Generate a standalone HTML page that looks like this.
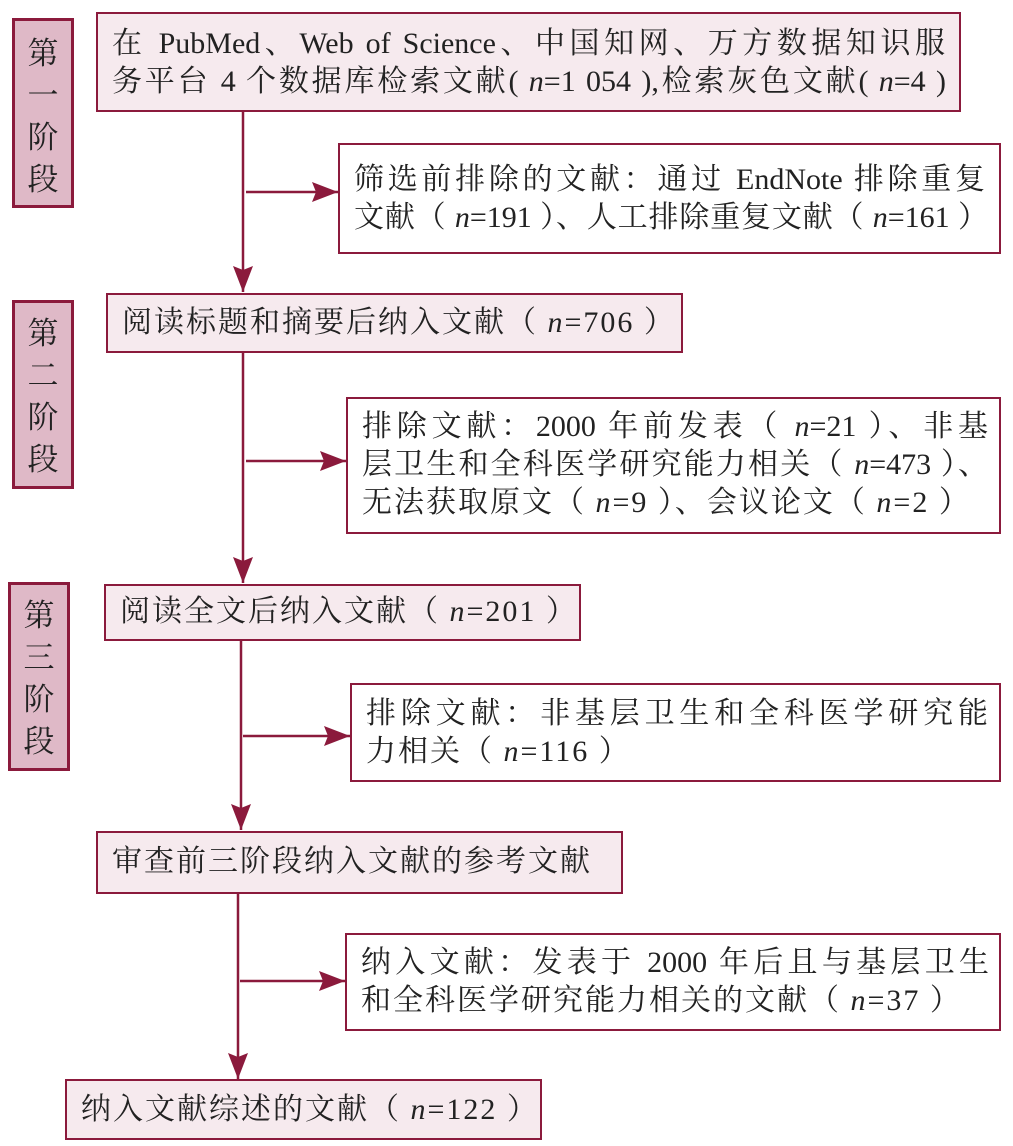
<!DOCTYPE html>
<html><head><meta charset="utf-8"><style>
body{margin:0;width:1013px;height:1146px;background:#fff;position:relative;overflow:hidden;font-family:"Liberation Serif","Noto Serif CJK SC",serif;color:#222;}
.b{position:absolute;box-sizing:border-box;border:2px solid #8b1a3c;font-size:30px;letter-spacing:2px;line-height:38px;white-space:nowrap;padding-left:14px;}
.j{display:block;white-space:normal;text-align:justify;text-align-last:justify;text-justify:inter-character;letter-spacing:0;}
.m{background:#f6eaee;}
.w{background:#fff;}
.s{background:#dfb9c7;border-width:3px;padding:0;text-align:center;font-size:31px;letter-spacing:0;line-height:42px;}
i{font-style:italic}
svg{position:absolute;left:0;top:0}
</style></head><body>
<svg width="1013" height="1146">
<defs>
<marker id="d" markerWidth="26" markerHeight="20" refX="26" refY="10" orient="auto" markerUnits="userSpaceOnUse"><path d="M0,0 L26,10 L0,20 L4,10 Z" fill="#8b1a3c"/></marker></defs>
<g stroke="#8b1a3c" stroke-width="2.5" fill="none">
<line x1="243" y1="111" x2="243" y2="292" marker-end="url(#d)"/>
<line x1="246" y1="192" x2="338" y2="192" marker-end="url(#d)"/>
<line x1="243" y1="352" x2="243" y2="583" marker-end="url(#d)"/>
<line x1="246" y1="461" x2="346" y2="461" marker-end="url(#d)"/>
<line x1="241" y1="640" x2="241" y2="830" marker-end="url(#d)"/>
<line x1="243" y1="736" x2="350" y2="736" marker-end="url(#d)"/>
<line x1="238" y1="893" x2="238" y2="1079" marker-end="url(#d)"/>
<line x1="240" y1="981" x2="345" y2="981" marker-end="url(#d)"/>
</g></svg>
<div class="b s" style="left:12px;top:18px;width:62px;height:190px;padding-top:12px">第<br>一<br>阶<br>段</div>
<div class="b s" style="left:12px;top:300px;width:62px;height:189px;padding-top:10px">第<br>二<br>阶<br>段</div>
<div class="b s" style="left:8px;top:582px;width:62px;height:189px;padding-top:10px">第<br>三<br>阶<br>段</div>
<div class="b m" style="left:96px;top:12px;width:865px;height:100px;padding-top:11px"><span class="j" style="width:833px">在 PubMed、Web of Science、中国知网、万方数据知识服</span><span class="j" style="width:834px;white-space:nowrap">务平台 4 个数据库检索文献( <i>n</i>=1 054 ),检索灰色文献( <i>n</i>=4 )</span></div>
<div class="b w" style="left:338px;top:143px;width:663px;height:111px;padding-top:16px"><span class="j" style="width:631px">筛选前排除的文献：通过 EndNote 排除重复</span><span class="j" style="width:634px">文献（ <i>n</i>=191 ）、人工排除重复文献（ <i>n</i>=161 ）</span></div>
<div class="b m" style="left:106px;top:293px;width:577px;height:60px;padding-top:9px">阅读标题和摘要后纳入文献（ <i>n</i>=706 ）</div>
<div class="b w" style="left:346px;top:397px;width:655px;height:137px;padding-top:9px"><span class="j" style="width:626px">排除文献：2000 年前发表（ <i>n</i>=21 ）、非基</span><span class="j" style="width:626px">层卫生和全科医学研究能力相关（ <i>n</i>=473 ）、</span>无法获取原文（ <i>n</i>=9 ）、会议论文（ <i>n</i>=2 ）</div>
<div class="b m" style="left:104px;top:584px;width:477px;height:57px;padding-top:7px">阅读全文后纳入文献（ <i>n</i>=201 ）</div>
<div class="b w" style="left:350px;top:683px;width:651px;height:99px;padding-top:10px"><span class="j" style="width:622px">排除文献：非基层卫生和全科医学研究能</span>力相关（ <i>n</i>=116 ）</div>
<div class="b m" style="left:96px;top:831px;width:527px;height:63px;padding-top:10px">审查前三阶段纳入文献的参考文献</div>
<div class="b w" style="left:345px;top:933px;width:656px;height:98px;padding-top:9px"><span class="j" style="width:628px">纳入文献：发表于 2000 年后且与基层卫生</span>和全科医学研究能力相关的文献（ <i>n</i>=37 ）</div>
<div class="b m" style="left:65px;top:1079px;width:477px;height:61px;padding-top:10px">纳入文献综述的文献（ <i>n</i>=122 ）</div>
</body></html>
